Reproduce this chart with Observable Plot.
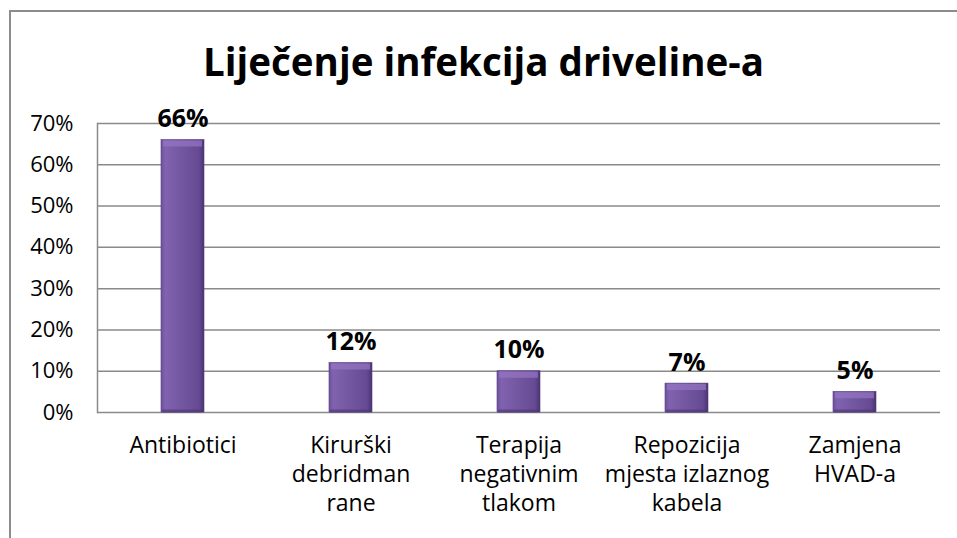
<!DOCTYPE html>
<html>
<head>
<meta charset="utf-8">
<script src="https://cdn.jsdelivr.net/npm/d3@7"></script>
<script src="https://cdn.jsdelivr.net/npm/@observablehq/plot@0.6"></script>
<style>
  html, body { margin: 0; padding: 0; background: #fff; }
  #wrap { position: relative; width: 957px; height: 538px; overflow: hidden; }
  #border { position: absolute; left: 9px; top: 10px; right: -2px; bottom: -2px;
            border-left: 2px solid #8c8c8c; border-top: 2px solid #8c8c8c; pointer-events: none; }
</style>
</head>
<body>
<div id="wrap"><div id="border"></div></div>
<script>
const title = "Liječenje infekcija driveline-a";
const categories = ["Antibiotici", "Kirurški\ndebridman\nrane", "Terapija\nnegativnim\ntlakom", "Repozicija\nmjesta izlaznog\nkabela", "Zamjena\nHVAD-a"];
const values = [0.66, 0.12, 0.10, 0.07, 0.05];
const yTicks = [0, 0.1, 0.2, 0.3, 0.4, 0.5, 0.6, 0.7];

const data = categories.map((c, i) => ({cat: c, v: values[i]}));
const font = "'Open Sans', sans-serif";

const defs = () => {
  const d = d3.create("svg:defs");
  const g = d.append("linearGradient").attr("id", "barGrad").attr("x1", 0).attr("x2", 1).attr("y1", 0).attr("y2", 0);
  [[0, "#6f51a0"], [0.1, "#8062ae"], [0.5, "#7356a0"], [0.88, "#664a93"], [1, "#4b3372"]]
    .forEach(([o, c]) => g.append("stop").attr("offset", o).attr("stop-color", c));
  const t = d.append("linearGradient").attr("id", "topGrad").attr("x1", 0).attr("x2", 0).attr("y1", 0).attr("y2", 1);
  [[0, "#a385d0"], [1, "#8a6bb8"]]
    .forEach(([o, c]) => t.append("stop").attr("offset", o).attr("stop-color", c));
  return d.node();
};

const chart = Plot.plot({
  width: 957,
  height: 538,
  marginLeft: 97,
  marginRight: 17,
  marginTop: 123,
  marginBottom: 126,
  style: {fontFamily: font, background: "transparent", overflow: "visible"},
  x: {domain: categories, paddingInner: 0.745, paddingOuter: 0.3725, axis: null},
  y: {domain: [0, 0.7], axis: null},
  marks: [
    defs,
    Plot.ruleY(yTicks, {stroke: "#8a8a8a", strokeWidth: 1.5}),
    Plot.frame({anchor: "left", stroke: "#8a8a8a", strokeWidth: 1.5}),
    Plot.axisY({ticks: yTicks, tickSize: 0, tickPadding: 24, tickFormat: d3.format(".0%"),
                label: null, fontSize: 22, fill: "#000"}),
    Plot.barY(data, {x: "cat", y: "v", fill: "url(#barGrad)", stroke: "#553c7e", strokeWidth: 0.6}),
    Plot.tickY(data, {x: "cat", y: "v", stroke: "#9576c4", strokeWidth: 6, dy: 3.5, insetLeft: 2, insetRight: 2, strokeOpacity: 0.7}),
    Plot.tickY(data, {x: "cat", y: 0, stroke: "#4e3575", strokeWidth: 3, dy: -1.5, insetLeft: 1, insetRight: 1, strokeOpacity: 0.6}),
    Plot.text(data, {x: "cat", y: "v", text: d => d3.format(".0%")(d.v), lineAnchor: "bottom", dy: -13,
                     fontSize: 25, fontWeight: "bold", fill: "#000"}),
    Plot.text(data, {x: "cat", text: "cat", frameAnchor: "bottom", lineAnchor: "top", dy: 20,
                     lineHeight: 1.26, fontSize: 23, fill: "#000"}),
    Plot.text([title], {frameAnchor: "top", lineAnchor: "bottom", dx: -35.5, dy: -48,
                        fontSize: 38.5, fontWeight: "bold", fill: "#000"})
  ]
});
document.getElementById("wrap").prepend(chart);
</script>
</body>
</html>
